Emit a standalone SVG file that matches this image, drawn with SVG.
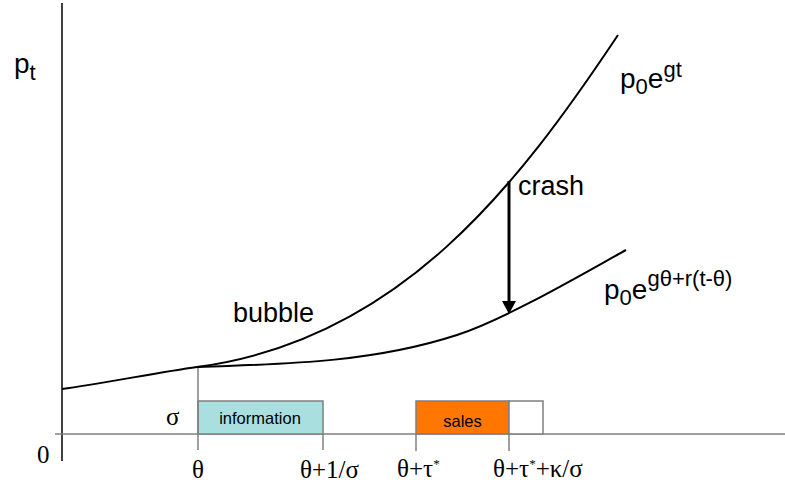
<svg xmlns="http://www.w3.org/2000/svg" width="785" height="484" viewBox="0 0 785 484">
<style>
.sans{font-family:"Liberation Sans",Arial,sans-serif;fill:#000}
.serif{font-family:"Liberation Serif","Times New Roman",serif;fill:#000;font-size:25px}
.curve{fill:none;stroke:#000;stroke-width:2}
.gray{stroke:#7f7f7f;stroke-width:1.5;fill:none}
.box{stroke:#7f7f7f;stroke-width:1.5}
</style>
<defs>
<marker id="ah" markerWidth="13" markerHeight="14" refX="0" refY="7" orient="auto" markerUnits="userSpaceOnUse" viewBox="0 0 13 14">
<path d="M0,0 L13,7 L0,14 Z" fill="#000"/>
</marker>
</defs>
<g id="axes">
<line x1="62" y1="3" x2="62" y2="461" stroke="#000" stroke-width="1.5"/>
<line class="gray" x1="55" y1="434" x2="785" y2="434"/>
</g>
<g id="info-box">
<rect class="box" x="198" y="401" width="125" height="33" fill="#aadfe0"/>
<text class="sans" x="260" y="424" font-size="16.5" text-anchor="middle">information</text>
</g>
<g id="sales-box">
<rect class="box" x="416" y="401" width="93" height="33" fill="#ff7700"/>
<rect class="box" x="509" y="401" width="34" height="33" fill="#fff"/>
<text class="sans" x="462.5" y="427" font-size="16.5" text-anchor="middle">sales</text>
</g>
<g id="ticks">
<line class="gray" x1="198" y1="367" x2="198" y2="450"/>
<line class="gray" x1="323" y1="434" x2="323" y2="450"/>
<line class="gray" x1="416" y1="434" x2="416" y2="451"/>
<line class="gray" x1="509" y1="434" x2="509" y2="451"/>
</g>
<g id="connectors">
<path id="bubble-curve" class="curve" d="M62,389 C100,384 160,372 197,367 C400,340 518,185 618,35"/>
<path id="fundamental-curve" class="curve" d="M197,367 C297,364 377,361 457,335 C507,318.5 586,272 626,250"/>
<line id="crash-arrow" x1="509" y1="181" x2="509" y2="301" stroke="#000" stroke-width="3" marker-end="url(#ah)"/>
</g>
<g id="labels">
<text class="sans" x="14" y="73" font-size="28">p<tspan font-size="22" dy="7">t</tspan></text>
<text class="sans" x="620" y="88" font-size="28">p<tspan font-size="22" dy="6">0</tspan><tspan dy="-6">e</tspan><tspan font-size="22" dy="-11">gt</tspan></text>
<text class="sans" x="604" y="299" font-size="28">p<tspan font-size="22" dy="6">0</tspan><tspan dy="-6">e</tspan><tspan font-size="22" dy="-13">gθ+r(t-θ)</tspan></text>
<text class="sans" x="518" y="195" font-size="27">crash</text>
<text class="sans" x="233" y="322" font-size="27">bubble</text>
<text class="serif" x="166" y="425">σ</text>
<text class="serif" x="37" y="463">0</text>
<text class="serif" x="198" y="478" text-anchor="middle">θ</text>
<text class="serif" x="300" y="478">θ+1/σ</text>
<text class="serif" x="397" y="477">θ+τ<tspan font-size="13" dy="-9">*</tspan></text>
<text class="serif" x="493" y="477">θ+τ<tspan font-size="13" dy="-9">*</tspan><tspan dy="9">+κ/σ</tspan></text>
</g>
</svg>
